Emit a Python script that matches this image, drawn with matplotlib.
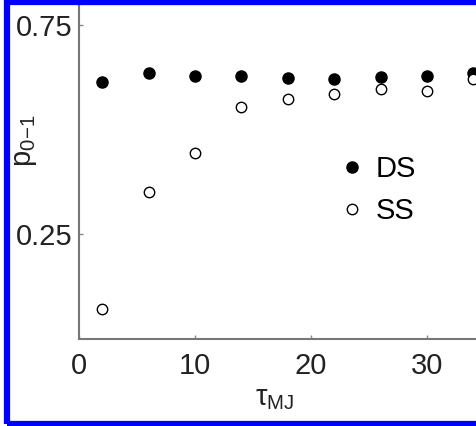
import matplotlib
matplotlib.use("Agg")
import matplotlib.pyplot as plt
from matplotlib.patches import Rectangle

plt.rcParams['font.family'] = ['Liberation Sans', 'DejaVu Sans']
plt.rcParams['mathtext.fontset'] = 'custom'
plt.rcParams['mathtext.rm'] = 'Liberation Sans'
plt.rcParams['mathtext.it'] = 'Liberation Sans:italic'

tau = [2, 6, 10, 14, 18, 22, 26, 30, 34]
ds = [0.614, 0.636, 0.629, 0.629, 0.624, 0.621, 0.626, 0.629, 0.636]
ss = [0.071, 0.352, 0.445, 0.555, 0.574, 0.586, 0.598, 0.593, 0.620]
xticks = [0, 10, 20, 30]
yticks = [0.25, 0.75]
ytick_labels = ['0.25', '0.75']

W, H = 476, 426
fig = plt.figure(figsize=(W / 100, H / 100), dpi=100)

x0, y_bot = 79, 339
ppu_x = 11.6
ax = fig.add_axes([x0 / W, (H - y_bot) / H, 36 * ppu_x / W, (y_bot - 4) / H])
ax.set_xlim(0, 36)
ax.set_ylim(0, 0.8)

ax.plot(tau, ds, 'o', color='black', markersize=8, linestyle='none', label='DS', clip_on=False)
ax.plot(tau, ss, 'o', markerfacecolor='white', markeredgecolor='black', markersize=7.5,
        markeredgewidth=1.0, linestyle='none', label='SS', clip_on=False)

ax.set_xticks(xticks)
ax.set_yticks(yticks)
ax.set_yticklabels(ytick_labels)
ax.tick_params(direction='in', length=3, width=1, color='#888888', labelsize=21, labelcolor='#222222')
ax.tick_params(axis='y', pad=5)
ax.tick_params(axis='x', pad=9)
for s in ax.spines.values():
    s.set_color('#777777')
    s.set_linewidth(1.5)

leg = ax.legend(loc='upper left', bbox_to_anchor=(339 / W, 1 - 155 / H), bbox_transform=fig.transFigure,
                frameon=False, fontsize=21, handletextpad=0.35, labelspacing=0.48,
                handlelength=0.9, borderpad=0, borderaxespad=0)

fig.text(255 / W, 1 - 405 / H, 'τ$_{\\mathrm{MJ}}$', fontsize=21, ha='left', va='baseline', color='#222222')
fig.text(25 / W, 1 - 140 / H, 'p$_{\\mathrm{0\\!-\\!1}}$', fontsize=21, rotation=90, ha='center', va='center', color='#222222')

# blue border
fig.add_artist(Rectangle((7 / W, 1 - 424 / H), 500 / W, 422 / H, transform=fig.transFigure,
                         fill=False, edgecolor='#0000ff', linewidth=4.5, zorder=10))

fig.savefig('out.png', dpi=100)
